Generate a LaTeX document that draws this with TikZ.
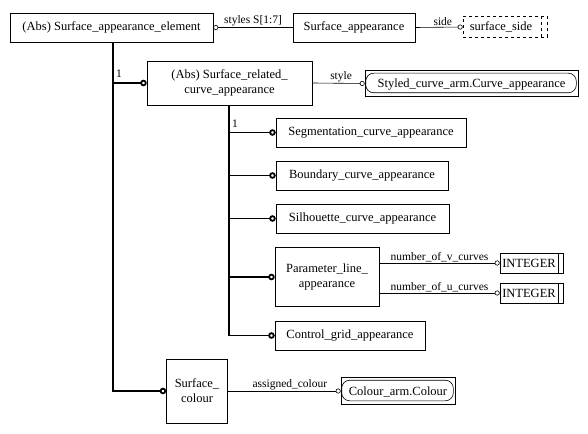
\documentclass[tikz,border=0pt]{standalone}
\usepackage{fontspec}
\setmainfont{Liberation Serif}
\usetikzlibrary{arrows.meta, positioning, calc}

\begin{document}
\begin{tikzpicture}[x=1pt, y=-1pt,
  ent/.style={draw, line width=0.6pt, align=center, inner sep=0pt, font=\fontsize{12.5}{15}\selectfont},
  typ/.style={draw, line width=0.6pt, inner sep=0pt, font=\fontsize{12.5}{15}\selectfont},
  lbl/.style={font=\fontsize{11.5}{14}\selectfont, inner sep=1pt, anchor=south},
  attr/.style={line width=0.6pt, -{Circle[open, length=5pt, width=5pt]}},
  sub/.style={line width=1.8pt, -{Circle[open, length=6.5pt, width=6.5pt]}},
]
  \useasboundingbox (0,0) rectangle (588,433);

  % Top row
  \node[ent, minimum width=203pt, minimum height=29pt] (sae) at (111.5,27.5) {(Abs) Surface\_appearance\_element};
  \node[ent, minimum width=122pt, minimum height=29pt] (sa) at (354,27.5) {Surface\_appearance};
  \node[typ, dashed, minimum width=84pt, minimum height=21pt] (side) at (505,27) {\hspace*{-8pt}surface\_side};
  \draw[dashed, line width=0.6pt] ([xshift=-6pt]side.north east) -- ([xshift=-6pt]side.south east);
  \draw[line width=0.6pt, {Circle[open, length=5pt, width=5pt]}-] (sae.east) -- node[lbl, pos=0.5] {styles S[1:7]} (sa.west);
  \draw[attr] (sa.east) -- node[lbl, pos=0.58] {side} (side.west);

  % Surface related curves
  \node[ent, minimum width=165pt, minimum height=44pt] (srca) at (229.5,83) {(Abs) Surface\_related\_\\curve\_appearance};
  \node[typ, minimum width=213pt, minimum height=26pt] (styled) at (471.5,83.5) {};
  \draw[line width=0.6pt, rounded corners=8pt] ([shift={(1,3)}]styled.north west) rectangle ([shift={(-2,-4)}]styled.south east);
  \node[font=\fontsize{12.5}{15}\selectfont, inner sep=0pt] at ([yshift=-1pt]styled.center) {Styled\_curve\_arm.Curve\_appearance};
  \draw[attr] (srca.east) -- node[lbl, pos=0.55] {style} (styled.west);

  \node[ent, minimum width=190pt, minimum height=29pt] (seg) at (371,132.5) {Segmentation\_curve\_appearance};
  \node[ent, minimum width=172pt, minimum height=29pt] (bnd) at (362,175.5) {Boundary\_curve\_appearance};
  \node[ent, minimum width=173pt, minimum height=29pt] (sil) at (362.5,218.5) {Silhouette\_curve\_appearance};
  \node[ent, minimum width=104pt, minimum height=59pt] (par) at (327,277) {Parameter\_line\_\\appearance};
  \node[ent, minimum width=150pt, minimum height=29pt] (ctl) at (350,335.5) {Control\_grid\_appearance};

  % INTEGER types
  \node[typ, minimum width=63pt, minimum height=20pt] (intv) at (531.5,263) {\hspace*{-5pt}INTEGER};
  \node[typ, minimum width=63pt, minimum height=20pt] (intu) at (531.5,293) {\hspace*{-5pt}INTEGER};
  \draw[line width=0.6pt] ([xshift=-5pt]intv.north east) -- ([xshift=-5pt]intv.south east);
  \draw[line width=0.6pt] ([xshift=-5pt]intu.north east) -- ([xshift=-5pt]intu.south east);
  \draw[attr] (par.east |- intv.west) -- node[lbl, pos=0.5] {number\_of\_v\_curves} (intv.west);
  \draw[attr] (par.east |- intu.west) -- node[lbl, pos=0.5] {number\_of\_u\_curves} (intu.west);

  % Surface colour
  \node[ent, minimum width=61pt, minimum height=64pt] (scol) at (197,391) {Surface\_\\colour};
  \node[typ, minimum width=114pt, minimum height=27pt] (col) at (398,391) {};
  \draw[line width=0.6pt, rounded corners=8pt] ([shift={(1,3)}]col.north west) rectangle ([shift={(-2,-4)}]col.south east);
  \node[font=\fontsize{12.5}{15}\selectfont, inner sep=0pt] at ([yshift=-1pt]col.center) {Colour\_arm.Colour};
  \draw[attr] (scol.east) -- node[lbl, pos=0.55] {assigned\_colour} (col.west);

  % Subtype trees
  \coordinate (trunkA) at (113,0);
  \coordinate (trunkB) at (229,0);
  \draw[sub] (sae.south -| trunkA) |- (srca.west);
  \draw[sub] (sae.south -| trunkA) |- (scol.west);
  \node[lbl, anchor=south west] at (115,79) {1};
  \foreach \n in {seg, bnd, sil, par, ctl}
    \draw[sub] (srca.south -| trunkB) |- (\n.west);
  \node[lbl, anchor=south west] at (231,129) {1};
\end{tikzpicture}
\end{document}
